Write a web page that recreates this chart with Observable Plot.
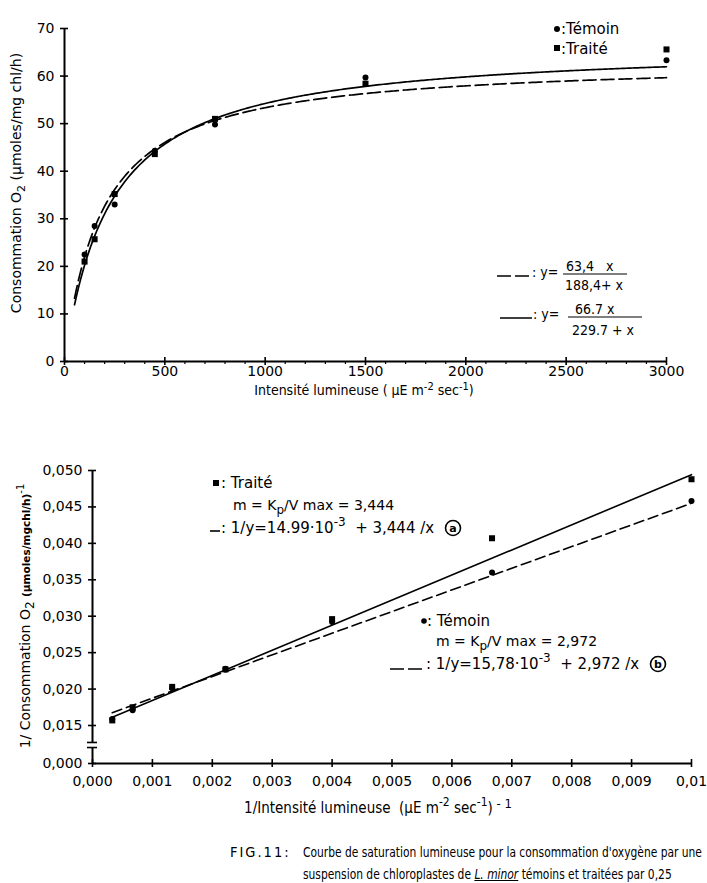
<!DOCTYPE html>
<html><head><meta charset="utf-8">
<script src="https://cdn.jsdelivr.net/npm/d3@7"></script>
<script src="https://cdn.jsdelivr.net/npm/@observablehq/plot@0.6"></script>
<style>
html,body{margin:0;padding:0;background:#fff;}
body{width:707px;height:883px;overflow:hidden;position:relative;}
#topChart,#bottomChart{display:block;height:auto;}
.cap{position:absolute;white-space:nowrap;font-family:"DejaVu Sans Condensed",sans-serif;font-size:14.5px;line-height:18px;color:#000;}
.cap.txt{transform:scaleX(0.82);transform-origin:0 0;}
.cap.lab{letter-spacing:2px;}
</style></head><body>
<div id="topChart"></div>
<div id="bottomChart"></div>
<div class="cap lab" style="left:230px;top:843px;">FIG.11:</div>
<div class="cap txt" style="left:303px;top:843px;">Courbe de saturation lumineuse pour la consommation d'oxygène par une</div>
<div class="cap txt" style="left:303px;top:865px;">suspension de chloroplastes de <u><i>L. minor</i></u> témoins et traitées  par 0,25</div>
<script>
// ---------- DATA ----------
const series = ["Témoin", "Traité"];
// top chart : light intensity (µE m-2 s-1) vs O2 consumption (µmoles/mg chl/h)
const intensity = [100, 150, 250, 450, 750, 1500, 3000];
const temoinRate = [22.5, 28.5, 33.0, 44.3, 49.8, 59.7, 63.3];
const traiteRate = [21.0, 25.7, 35.2, 43.6, 51.0, 58.4, 65.6];
// fitted hyperbolas y = Vmax x / (Kp + x)
const vmax = [63.4, 66.7];
const kp = [188.4, 229.7];
// bottom chart : 1/intensity vs 1/consumption
const invIntensity = [0.00033, 0.00067, 0.00133, 0.00222, 0.004, 0.00667, 0.01];
const temoinInv = [0.0159, 0.0171, 0.0201, 0.0228, 0.0292, 0.0360, 0.0458];
const traiteInv = [0.0157, 0.0175, 0.0203, 0.0227, 0.0296, 0.0407, 0.0488];
// fitted lines 1/y = a + m/x
const intercept = [15.78e-3, 14.99e-3];
const slope = [2.972, 3.444];
// ticks
const topXTicks = [0, 500, 1000, 1500, 2000, 2500, 3000];
const topXMinor = [100,200,300,400,600,700,800,900,1100,1200,1300,1400,1600,1700,1800,1900,2100,2200,2300,2400,2600,2700,2800,2900];
const topYTicks = [0, 10, 20, 30, 40, 50, 60, 70];
const botXTicks = [0, 0.001, 0.002, 0.003, 0.004, 0.005, 0.006, 0.007, 0.008, 0.009, 0.01];
const botXLabels = ["0,000","0,001","0,002","0,003","0,004","0,005","0,006","0,007","0,008","0,009","0,01"];
const botYTicks = [0, 0.015, 0.020, 0.025, 0.030, 0.035, 0.040, 0.045, 0.050];
const botYLabels = ["0,000","0,015","0,020","0,025","0,030","0,035","0,040","0,045","0,050"];
const axisBreak = [0.0063, 0.0083];

// ---------- HELPERS ----------
const FONT = '"DejaVu Sans", sans-serif';
const FONTC = '"DejaVu Sans Condensed", sans-serif';
function rich(g, x, y, parts, {size = 14, anchor = "start", family = FONTC, rotate = 0, weight = "normal"} = {}) {
  const t = g.append("text").attr("x", x).attr("y", y).attr("font-size", size)
    .attr("font-family", family).attr("text-anchor", anchor).attr("font-weight", weight)
    .attr("fill", "black").attr("stroke", "none");
  if (rotate) t.attr("transform", `rotate(${rotate},${x},${y})`);
  let shift = 0;
  for (const p of parts) {
    const s = typeof p === "string" ? {t: p} : p;
    const target = s.sup ? -(s.shift ?? size * 0.45) : s.sub ? (s.shift ?? size * 0.3) : 0;
    const ts = t.append("tspan").text(s.t).attr("dy", target - shift);
    if (s.size) ts.attr("font-size", s.size);
    if (s.weight) ts.attr("font-weight", s.weight);
    shift = target;
  }
  return t;
}
function hline(g, x1, x2, y, w = 1.3, dash = null) {
  const l = g.append("line").attr("x1", x1).attr("x2", x2).attr("y1", y).attr("y2", y)
    .attr("stroke", "black").attr("stroke-width", w);
  if (dash) l.attr("stroke-dasharray", dash);
}

// ---------- TOP CHART ----------
const temoinTop = intensity.map((x, i) => ({x, y: temoinRate[i]}));
const traiteTop = intensity.map((x, i) => ({x, y: traiteRate[i]}));
const curveX = d3.range(50, 3001, 10);
const fits = vmax.map((v, i) => curveX.map(x => ({x, y: v * x / (kp[i] + x)})));
const tickStyle = {strokeWidth: 1.6, fontSize: 14, fontFamily: FONT, label: null};

const topSvg = Plot.plot({
  width: 707, height: 405,
  marginLeft: 64, marginRight: 41, marginTop: 28, marginBottom: 44,
  x: {domain: [0, 3000]},
  y: {domain: [0, 70]},
  style: {fontFamily: FONT, fontSize: "14px", color: "black", background: "white"},
  marks: [
    Plot.ruleY([0], {x1: 0, x2: 3000, strokeWidth: 2}),
    Plot.ruleX([0], {y1: 0, y2: 70, strokeWidth: 2}),
    Plot.axisX(topXTicks, {...tickStyle, tickSize: 4, tickPadding: 1, tickFormat: d => String(d)}),
    Plot.axisX(topXTicks, {...tickStyle, tickSize: -4, tickFormat: () => ""}),
    Plot.axisX(topXMinor, {...tickStyle, strokeWidth: 1.2, tickSize: 3, tickFormat: () => ""}),
    Plot.axisY(topYTicks, {...tickStyle, tickSize: 4, tickPadding: 6, tickFormat: d => String(d)}),
    Plot.axisY(topYTicks, {...tickStyle, tickSize: -4, tickFormat: () => ""}),
    Plot.line(fits[0], {x: "x", y: "y", stroke: "black", strokeWidth: 1.7, strokeDasharray: "13,5"}),
    Plot.line(fits[1], {x: "x", y: "y", stroke: "black", strokeWidth: 1.7}),
    Plot.dot(temoinTop, {x: "x", y: "y", r: 3, fill: "black", symbol: "circle"}),
    Plot.dot(traiteTop, {x: "x", y: "y", r: 3.4, fill: "black", symbol: "square"})
  ]
});
document.getElementById("topChart").append(topSvg);
{
  const g = d3.select(topSvg).append("g");
  rich(g, 364, 395, ["Intensité lumineuse ( µE m", {t: "-2", sup: true, size: 11, shift: 5}, " sec", {t: "-1", sup: true, size: 11, shift: 5}, ")"], {size: 14, anchor: "middle"});
  rich(g, 21, 183, ["Consommation O", {t: "2", sub: true, size: 11}, " (µmoles/mg chl/h)"], {size: 14, anchor: "middle", rotate: -90, family: FONT});
  g.append("circle").attr("cx", 557).attr("cy", 29).attr("r", 3).attr("fill", "black");
  rich(g, 561, 34, [":Témoin"], {size: 15, family: FONT});
  g.append("rect").attr("x", 554).attr("y", 45).attr("width", 6).attr("height", 6).attr("fill", "black");
  rich(g, 561, 54, [":Traité"], {size: 15, family: FONT});
  hline(g, 497, 531, 276, 1.5, "14,4");
  rich(g, 532, 277, [": y="], {size: 14});
  rich(g, 566, 271, ["63,4   x"], {size: 14});
  hline(g, 563, 627, 274, 1.2);
  rich(g, 565, 290, ["188,4+ x"], {size: 14});
  hline(g, 500, 532, 318, 1.5);
  rich(g, 533, 319, [": y="], {size: 14});
  rich(g, 575, 314, ["66.7 x"], {size: 14});
  hline(g, 568, 642, 317, 1.2);
  rich(g, 572, 335, ["229.7 + x"], {size: 14});
}

// ---------- BOTTOM CHART ----------
const temoinBot = invIntensity.map((x, i) => ({x, y: temoinInv[i]}));
const traiteBot = invIntensity.map((x, i) => ({x, y: traiteInv[i]}));
const lineEnds = [invIntensity[0], invIntensity[invIntensity.length - 1]];
const fitLines = intercept.map((a, i) => lineEnds.map(x => ({x, y: a + slope[i] * x})));
const yAxisSegments = [{y1: 0, y2: axisBreak[0]}, {y1: axisBreak[1], y2: 0.05}];

const bottomSvg = Plot.plot({
  width: 707, height: 420,
  marginLeft: 92, marginRight: 16, marginTop: 65, marginBottom: 62,
  x: {domain: [0, 0.01]},
  y: {type: "linear", domain: [0, 0.015, 0.05], range: [358, 320, 65]},
  style: {fontFamily: FONT, fontSize: "14px", color: "black", background: "white"},
  marks: [
    Plot.ruleY([0], {x1: 0, x2: 0.01, strokeWidth: 2}),
    Plot.ruleX(yAxisSegments, {x: 0, y1: "y1", y2: "y2", strokeWidth: 2}),
    Plot.axisY(axisBreak, {...tickStyle, tickSize: 5, tickFormat: () => ""}),
    Plot.axisY(axisBreak, {...tickStyle, tickSize: -5, tickFormat: () => ""}),
    Plot.axisX(botXTicks, {...tickStyle, tickSize: 4, tickPadding: 9, tickFormat: (d, i) => botXLabels[i]}),
    Plot.axisX(botXTicks, {...tickStyle, tickSize: -4, tickFormat: () => ""}),
    Plot.axisY(botYTicks, {...tickStyle, tickSize: 4, tickPadding: 6, tickFormat: (d, i) => botYLabels[i]}),
    Plot.axisY(botYTicks, {...tickStyle, tickSize: -4, tickFormat: () => ""}),
    Plot.line(fitLines[0], {x: "x", y: "y", stroke: "black", strokeWidth: 1.6, strokeDasharray: "10,5"}),
    Plot.line(fitLines[1], {x: "x", y: "y", stroke: "black", strokeWidth: 1.6}),
    Plot.dot(temoinBot, {x: "x", y: "y", r: 3, fill: "black", symbol: "circle"}),
    Plot.dot(traiteBot, {x: "x", y: "y", r: 3.4, fill: "black", symbol: "square"})
  ]
});
document.getElementById("bottomChart").append(bottomSvg);
{
  const g = d3.select(bottomSvg).append("g");
  const o = 405;
  rich(g, 378, 813 - o, ["1/Intensité lumineuse  (µE m", {t: "-2", sup: true, size: 12}, " sec", {t: "-1", sup: true, size: 12}, ")", {t: " - 1", sup: true, size: 13, shift: 5}], {size: 15, anchor: "middle"});
  rich(g, 30, 616 - o, ["1/ Consommation O", {t: "2", sub: true, size: 12}, " ", {t: "(µmoles/mgchl/h)", size: 10.5, weight: "bold"}, {t: "-1", sup: true, size: 10, shift: 6}], {size: 14, anchor: "middle", rotate: -90, family: FONT});
  g.append("rect").attr("x", 213).attr("y", 480 - o).attr("width", 6).attr("height", 6).attr("fill", "black");
  rich(g, 221, 488 - o, [": Traité"], {size: 15, family: FONT});
  rich(g, 233, 510 - o, ["m = K", {t: "p", sub: true, size: 12}, "/V max = 3,444"], {size: 14, family: FONT});
  hline(g, 210, 220, 531 - o, 1.6);
  rich(g, 221, 533 - o, [": 1/y=14.99·10", {t: "-3", sup: true, size: 12}, "  + 3,444 /x"], {size: 15, family: FONT});
  g.append("circle").attr("cx", 453).attr("cy", 528 - o).attr("r", 7.5).attr("fill", "none").attr("stroke", "black").attr("stroke-width", 1.6);
  rich(g, 453, 532 - o, ["a"], {size: 11, anchor: "middle", weight: "bold", family: FONT});
  g.append("circle").attr("cx", 424).attr("cy", 621 - o).attr("r", 2.8).attr("fill", "black");
  rich(g, 427, 626 - o, [": Témoin"], {size: 15, family: FONT});
  rich(g, 436, 646 - o, ["m = K", {t: "p", sub: true, size: 12}, "/V max = 2,972"], {size: 14, family: FONT});
  hline(g, 390, 425, 669 - o, 1.6, "14,4");
  rich(g, 426, 669 - o, [": 1/y=15,78·10", {t: "-3", sup: true, size: 12}, "  + 2,972 /x"], {size: 15, family: FONT});
  g.append("circle").attr("cx", 658).attr("cy", 664 - o).attr("r", 7.5).attr("fill", "none").attr("stroke", "black").attr("stroke-width", 1.6);
  rich(g, 658, 668 - o, ["b"], {size: 11, anchor: "middle", weight: "bold", family: FONT});
}
</script>
</body></html>
